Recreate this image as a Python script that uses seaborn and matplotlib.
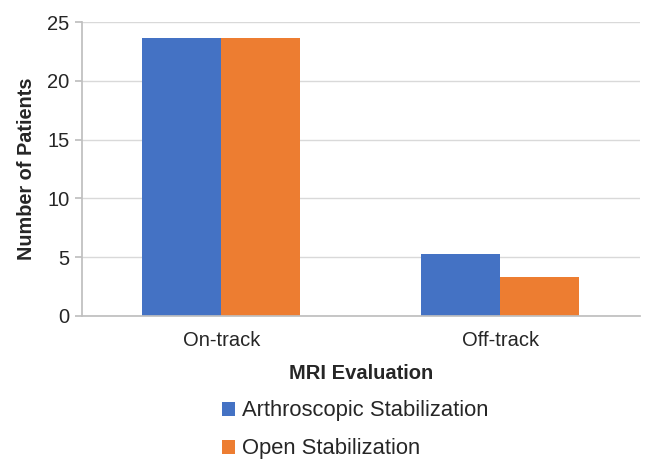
import numpy as np
import pandas as pd
import matplotlib.pyplot as plt
import seaborn as sns

sns.set_theme(style='white')
plt.rcParams['font.family'] = ['Liberation Sans', 'DejaVu Sans']

categories = ['On-track', 'Off-track']
groups = ['Arthroscopic Stabilization', 'Open Stabilization']
arthroscopic = [23.7, 5.3]
open_stab = [23.7, 3.3]
colors = ['#4472C4', '#ED7D31']

df = pd.DataFrame({
    'MRI Evaluation': categories * 2,
    'group': [groups[0]] * 2 + [groups[1]] * 2,
    'patients': arthroscopic + open_stab,
})

fig = plt.figure(figsize=(6.47, 4.63), dpi=100)
ax = fig.add_axes([0.1267, 0.3175, 0.862, 0.6345])
sns.barplot(data=df, x='MRI Evaluation', y='patients', hue='group',
            hue_order=groups, order=categories, palette=colors,
            width=0.566, gap=0, linewidth=0, saturation=1, ax=ax)

ax.set_ylim(0, 25)
ax.set_yticks([0, 5, 10, 15, 20, 25])
ax.yaxis.grid(True, color='#D9D9D9', lw=1)
ax.set_axisbelow(True)
for s in ['top', 'right']:
    ax.spines[s].set_visible(False)
ax.spines['left'].set_color('#BFBFBF')
ax.spines['bottom'].set_color('#BFBFBF')
ax.tick_params(axis='y', left=True, length=5, color='#BFBFBF',
               labelsize=14.5, labelcolor='#262626', pad=4)
ax.tick_params(axis='x', bottom=False, labelsize=14.5, labelcolor='#262626', pad=5)
ax.set_ylabel('Number of Patients', fontsize=14.3, fontweight='bold',
              color='#262626', labelpad=8)
ax.set_xlabel('MRI Evaluation', fontsize=14.5, fontweight='bold',
              color='#262626', labelpad=10)

ax.get_legend().remove()
h, l = ax.get_legend_handles_labels()
leg = fig.legend(h, l, loc='upper left', bbox_to_anchor=(0.313, 0.178),
                 frameon=False, fontsize=15.8, handlelength=0.6, handleheight=0.6,
                 handletextpad=0.3, labelspacing=0.78, labelcolor='#262626')
fig.savefig('out.png', dpi=100)
